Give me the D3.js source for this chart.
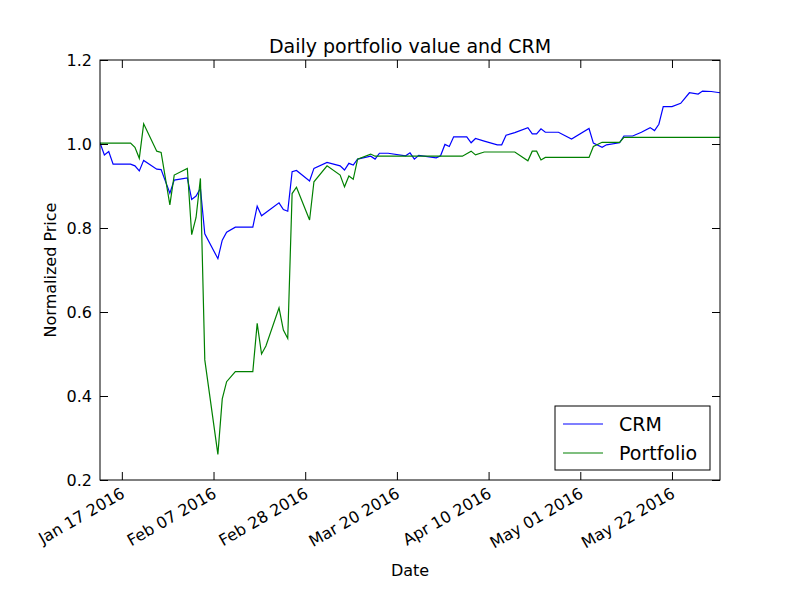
<!DOCTYPE html>
<html>
<head>
<meta charset="utf-8">
<script src="https://cdn.jsdelivr.net/npm/d3@7"></script>
<style>
  body { margin: 0; background: #fff; }
  text { font-family: "DejaVu Sans", sans-serif; }
</style>
</head>
<body>
<svg width="800" height="600"></svg>
<script>
// values
var crmDates = ['2016-01-12','2016-01-13','2016-01-14','2016-01-15','2016-01-19','2016-01-20','2016-01-21','2016-01-22',
  '2016-01-25','2016-01-26','2016-01-28','2016-01-29','2016-02-01','2016-02-02','2016-02-03','2016-02-04','2016-02-05',
  '2016-02-08','2016-02-09','2016-02-10','2016-02-12','2016-02-16','2016-02-17','2016-02-18','2016-02-22','2016-02-23',
  '2016-02-24','2016-02-25','2016-02-26','2016-02-29','2016-03-01','2016-03-04','2016-03-07','2016-03-08','2016-03-09',
  '2016-03-10','2016-03-11','2016-03-14','2016-03-15','2016-03-16','2016-03-18','2016-03-22','2016-03-23','2016-03-24',
  '2016-03-25','2016-03-29','2016-03-30','2016-03-31','2016-04-01','2016-04-02','2016-04-05','2016-04-06','2016-04-07',
  '2016-04-09','2016-04-12','2016-04-13','2016-04-14','2016-04-16','2016-04-19','2016-04-20','2016-04-21','2016-04-22',
  '2016-04-23','2016-04-26','2016-04-29','2016-05-03','2016-05-04','2016-05-06','2016-05-07','2016-05-10','2016-05-11',
  '2016-05-13','2016-05-15','2016-05-17','2016-05-18','2016-05-19','2016-05-20','2016-05-22','2016-05-24','2016-05-26',
  '2016-05-28','2016-05-29','2016-05-31','2016-06-02']
var crmValues = [1.003,0.974,0.982,0.952,0.952,0.948,0.936,0.961,
  0.940,0.939,0.883,0.914,0.919,0.868,0.876,0.894,0.786,
  0.727,0.771,0.790,0.802,0.802,0.852,0.829,0.860,0.844,
  0.840,0.934,0.937,0.912,0.942,0.956,0.948,0.938,0.954,
  0.950,0.964,0.971,0.964,0.978,0.978,0.972,0.979,0.964,
  0.973,0.967,0.972,0.999,0.994,1.017,1.017,1.003,1.013,
  1.007,0.998,0.998,1.021,1.027,1.039,1.024,1.024,1.036,
  1.028,1.028,1.012,1.037,1.002,0.992,0.998,1.003,1.019,
  1.019,1.028,1.039,1.032,1.047,1.089,1.089,1.097,1.122,
  1.119,1.126,1.125,1.122]

var portDates = ['2016-01-12','2016-01-19','2016-01-20','2016-01-21','2016-01-22','2016-01-25','2016-01-26','2016-01-28',
  '2016-01-29','2016-02-01','2016-02-02','2016-02-03','2016-02-04','2016-02-05','2016-02-08','2016-02-09','2016-02-10',
  '2016-02-12','2016-02-16','2016-02-17','2016-02-18','2016-02-19','2016-02-22','2016-02-23','2016-02-24','2016-02-25',
  '2016-02-26','2016-02-29','2016-03-01','2016-03-04','2016-03-07','2016-03-08','2016-03-09','2016-03-10','2016-03-11',
  '2016-03-14','2016-03-15','2016-03-16','2016-04-04','2016-04-06','2016-04-07','2016-04-09','2016-04-16','2016-04-19',
  '2016-04-20','2016-04-21','2016-04-22','2016-04-23','2016-05-03','2016-05-04','2016-05-06','2016-05-10','2016-05-11',
  '2016-06-02']
var portValues = [1.002,1.002,0.992,0.966,1.048,0.983,0.980,0.855,
  0.926,0.942,0.784,0.825,0.918,0.486,0.261,0.393,0.434,
  0.458,0.458,0.573,0.500,0.519,0.610,0.557,0.537,0.882,
  0.897,0.819,0.910,0.948,0.926,0.898,0.924,0.916,0.964,
  0.976,0.971,0.971,0.971,0.983,0.974,0.981,0.981,0.960,
  0.983,0.983,0.962,0.968,0.968,0.994,1.004,1.004,1.016,
  1.016]

var yTicks = [0.2, 0.4, 0.6, 0.8, 1.0, 1.2]
var xTickDates = ['2016-01-17','2016-02-07','2016-02-28','2016-03-20','2016-04-10','2016-05-01','2016-05-22']

var parse = d3.timeParse('%Y-%m-%d')
var margin = { left:100, right:80, top:60, bottom:120 }
var W = 800 - margin.left - margin.right, H = 600 - margin.top - margin.bottom

var svg = d3.select('svg')
var g = svg.append('g').attr('transform', 'translate(' + margin.left + ',' + margin.top + ')')

var x = d3.scaleTime().domain([parse(crmDates[0]), parse(crmDates[crmDates.length - 1])]).range([0, W])
var y = d3.scaleLinear().domain([0.2, 1.2]).range([H, 0])

var series = [
  { name:'CRM', color:'#0000ff', pts:crmDates.map(function(d, i) { return [parse(d), crmValues[i]] }) },
  { name:'Portfolio', color:'#008000', pts:portDates.map(function(d, i) { return [parse(d), portValues[i]] }) }
]

var line = d3.line().x(function(p) { return x(p[0]) }).y(function(p) { return y(p[1]) })
g.append('clipPath').attr('id', 'clip').append('rect').attr('width', W).attr('height', H)
series.forEach(function(s) {
  g.append('path').attr('d', line(s.pts)).attr('fill', 'none')
    .attr('stroke', s.color).attr('stroke-width', 1.2).attr('clip-path', 'url(#clip)')
})

// inward ticks, classic style, on all four sides
var xt = xTickDates.map(parse), fmt = d3.timeFormat('%b %d %Y')
g.append('g').attr('transform', 'translate(0,' + H + ')')
  .call(d3.axisBottom(x).tickValues(xt).tickSizeInner(-8).tickSizeOuter(0).tickFormat(fmt))
  .call(function(a) {
    a.selectAll('text').attr('font-size', 16).attr('fill', '#000')
      .attr('text-anchor', 'end').attr('dy', 0)
      .attr('transform', 'translate(2,14) rotate(-30)')
  })
g.append('g').call(d3.axisTop(x).tickValues(xt).tickSizeInner(-8).tickSizeOuter(0).tickFormat(''))
g.append('g')
  .call(d3.axisLeft(y).tickValues(yTicks).tickSizeInner(-8).tickSizeOuter(0).tickPadding(8).tickFormat(d3.format('.1f')))
  .call(function(a) { a.selectAll('text').attr('font-size', 16).attr('fill', '#000') })
g.append('g').attr('transform', 'translate(' + W + ',0)')
  .call(d3.axisRight(y).tickValues(yTicks).tickSizeInner(-8).tickSizeOuter(0).tickFormat(''))
g.selectAll('.domain').remove()
g.selectAll('.tick line').attr('stroke', '#000')
g.append('rect').attr('width', W).attr('height', H).attr('fill', 'none').attr('stroke', '#000').attr('stroke-width', 1)

svg.append('text').attr('x', margin.left + W / 2).attr('y', 53).attr('text-anchor', 'middle')
  .attr('font-size', 19).text('Daily portfolio value and CRM')
svg.append('text').attr('x', margin.left + W / 2).attr('y', 576).attr('text-anchor', 'middle')
  .attr('font-size', 16).text('Date')
svg.append('text').attr('transform', 'translate(56,' + (margin.top + H / 2) + ') rotate(-90)')
  .attr('text-anchor', 'middle').attr('font-size', 16).text('Normalized Price')

// legend
var lg = g.append('g').attr('transform', 'translate(' + (W - 165) + ',' + (H - 74) + ')')
lg.append('rect').attr('width', 155).attr('height', 64).attr('fill', '#fff').attr('stroke', '#000')
series.forEach(function(s, i) {
  var yy = 18 + i * 29
  lg.append('line').attr('x1', 8).attr('x2', 48).attr('y1', yy).attr('y2', yy)
    .attr('stroke', s.color).attr('stroke-width', 1.2)
  lg.append('text').attr('x', 64).attr('y', yy + 7).attr('font-size', 19).text(s.name)
})
</script>
</body>
</html>
